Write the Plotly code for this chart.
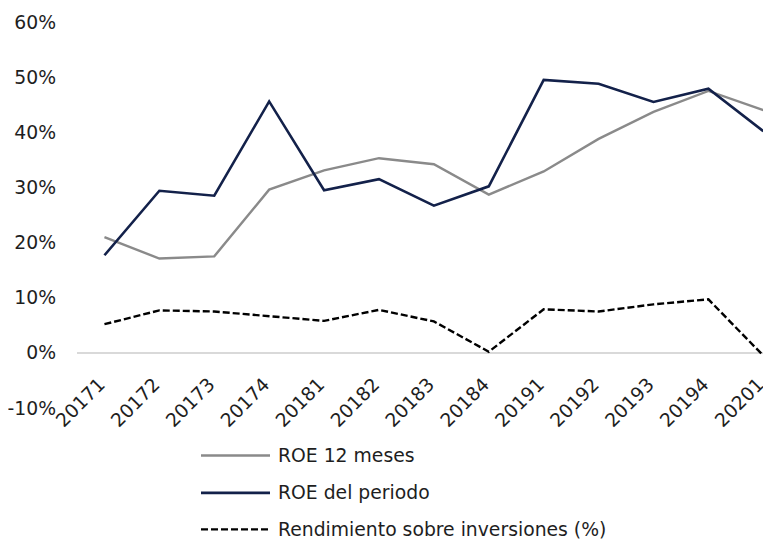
import plotly.graph_objects as go

periods = ["20171", "20172", "20173", "20174", "20181", "20182", "20183",
           "20184", "20191", "20192", "20193", "20194", "20201"]
roe_12m = [21.0, 17.1, 17.5, 29.6, 33.1, 35.3, 34.2, 28.7, 32.9, 38.8, 43.7, 47.5, 44.0]
roe_periodo = [17.7, 29.4, 28.5, 45.6, 29.5, 31.5, 26.7, 30.2, 49.5, 48.8, 45.5, 47.9, 40.2]
rendimiento = [5.2, 7.7, 7.5, 6.6, 5.8, 7.8, 5.7, 0.2, 7.9, 7.5, 8.8, 9.7, -0.5]
y_ticks = [-10, 0, 10, 20, 30, 40, 50, 60]
y_tick_text = ["-10%", "0%", "10%", "20%", "30%", "40%", "50%", "60%"]
series_names = ["ROE 12 meses", "ROE del periodo", "Rendimiento sobre inversiones (%)"]

FONT = "DejaVu Sans"
TXT = "#1e1e1e"
SIZE = 18.8
OFF = 8  # page body margin
W, H = 771 - OFF, 541 - OFF
ML, MR, MT, MB = 69, 0, 14, 132.5
PW, PH = W - ML - MR, H - MT - MB

styles = [
    dict(color="#8a8a8a", width=2.4),
    dict(color="#13214a", width=2.6),
    dict(color="#000000", width=2.4, dash="7px,3px"),
]
values = [roe_12m, roe_periodo, rendimiento]

fig = go.Figure()
for name, vals, st in zip(series_names, values, styles):
    fig.add_trace(go.Scatter(x=periods, y=vals, mode="lines", name=name,
                             line=st, showlegend=False))


def px_x(x):
    return (x - OFF - ML) / PW


def px_y(y):
    return (H - MB - (y - OFF)) / PH


# manual legend (long sample lines, like the reference)
legend_rows = [456, 493.5, 530]
for name, st, yy in zip(series_names, styles, legend_rows):
    fig.add_shape(type="line", xref="paper", yref="paper",
                  x0=px_x(201), x1=px_x(270), y0=px_y(yy), y1=px_y(yy),
                  line=st)
    fig.add_annotation(xref="paper", yref="paper", x=px_x(276), y=px_y(yy),
                       xanchor="left", yanchor="middle", showarrow=False,
                       text=name, font=dict(family=FONT, size=SIZE, color=TXT))

fig.update_layout(
    width=W, height=H,
    margin=dict(l=ML, r=MR, t=MT, b=MB, autoexpand=False),
    paper_bgcolor="white", plot_bgcolor="white",
    font=dict(family=FONT, size=SIZE, color=TXT),
    showlegend=False,
    xaxis=dict(type="category", range=[-0.5, 12.14], showgrid=False,
               zeroline=False, showline=False, ticks="", automargin=False,
               tickangle=-45, anchor="free", position=1 / 7,
               ticklabelstandoff=16, ticklabelshift=-5,
               tickfont=dict(family=FONT, size=SIZE, color=TXT)),
    yaxis=dict(range=[-10, 60], tickvals=y_ticks, ticktext=y_tick_text,
               showgrid=False, zeroline=True, zerolinecolor="#d9d9d9",
               zerolinewidth=1.6, showline=False, ticks="", automargin=False,
               ticklabelstandoff=20,
               tickfont=dict(family=FONT, size=SIZE, color=TXT)),
)

fig.write_html("out.html")
